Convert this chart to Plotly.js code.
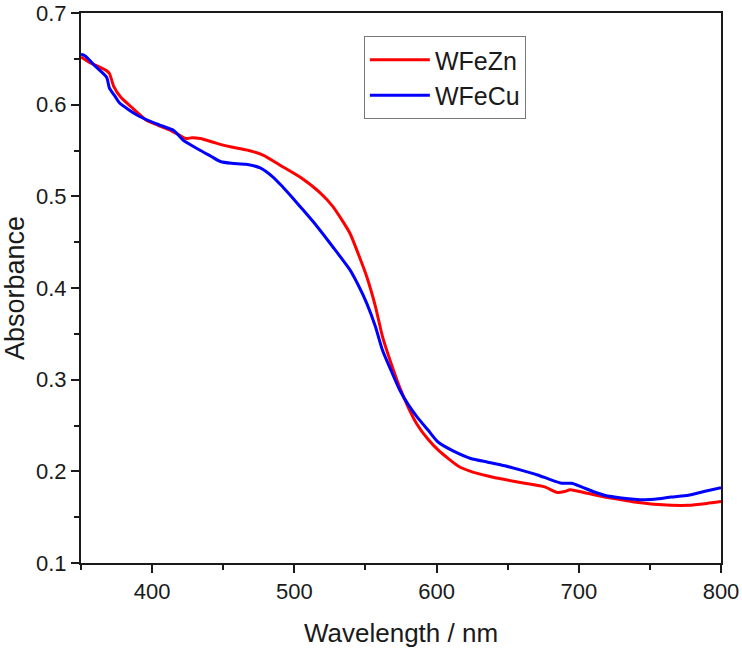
<!DOCTYPE html>
<html>
<head>
<meta charset="utf-8">
<script src="https://cdn.plot.ly/plotly-3.0.1.min.js"></script>
<style>
  html, body { margin: 0; padding: 0; background: #fff; }
  #chart { width: 742px; height: 651px; }
</style>
</head>
<body>
<div id="chart"></div>
<script>
// WFeZn absorbance spectrum
const znWavelength = [350, 356, 363, 368, 370, 373, 378, 385, 396, 405, 413, 420, 424, 428, 434, 445, 455, 468, 478, 490,
    504, 518, 527, 539, 545, 551, 557, 562, 568, 574, 580, 586, 594, 602, 616, 624, 636, 648, 662, 676,
    685, 690, 694, 706, 718, 730, 742, 753, 765, 777, 790, 800];
const znAbsorbance = [0.652, 0.646, 0.641, 0.637, 0.634, 0.620, 0.608, 0.598, 0.583, 0.577, 0.572, 0.566, 0.563, 0.564, 0.563, 0.558, 0.554, 0.550, 0.545, 0.534,
    0.521, 0.504, 0.489, 0.460, 0.437, 0.412, 0.380, 0.347, 0.318, 0.292, 0.270, 0.252, 0.235, 0.222, 0.205, 0.200, 0.195, 0.191, 0.187, 0.183,
    0.177, 0.178, 0.180, 0.176, 0.172, 0.169, 0.166, 0.164, 0.163, 0.163, 0.165, 0.167];

// WFeCu absorbance spectrum
const cuWavelength = [350, 353, 360, 368, 370, 374, 377, 383, 389, 397, 405, 415, 419, 422, 434, 441, 448, 456, 466, 476,
    485, 492, 499, 504, 515, 527, 539, 545, 551, 557, 562, 568, 574, 580, 586, 594, 601, 612, 624, 636,
    648, 660, 671, 680, 688, 695, 702, 710, 718, 730, 746, 756, 765, 777, 788, 800];
const cuAbsorbance = [0.655, 0.653, 0.642, 0.630, 0.618, 0.609, 0.602, 0.595, 0.589, 0.583, 0.578, 0.572, 0.566, 0.561, 0.550, 0.544, 0.538, 0.536, 0.535, 0.531,
    0.521, 0.510, 0.498, 0.489, 0.469, 0.445, 0.420, 0.403, 0.383, 0.358, 0.332, 0.310, 0.289, 0.273, 0.260, 0.245, 0.232, 0.222, 0.214, 0.210,
    0.206, 0.201, 0.196, 0.191, 0.187, 0.187, 0.183, 0.178, 0.174, 0.171, 0.169, 0.170, 0.172, 0.174, 0.178, 0.182];

const seriesNames = ['WFeZn', 'WFeCu'];
const seriesColors = ['rgb(255,0,0)', 'rgb(0,0,255)'];

const fontFamily = 'Liberation Sans, Arial, sans-serif';

const plotData = [
    {
        x: znWavelength,
        y: znAbsorbance,
        name: seriesNames[0],
        type: 'scatter',
        mode: 'lines',
        line: { color: seriesColors[0], width: 3, shape: 'spline', smoothing: 0.6 }
    },
    {
        x: cuWavelength,
        y: cuAbsorbance,
        name: seriesNames[1],
        type: 'scatter',
        mode: 'lines',
        line: { color: seriesColors[1], width: 3, shape: 'spline', smoothing: 0.6 }
    }
];

const axisCommon = {
    showline: true,
    linecolor: '#1a1a1a',
    linewidth: 2,
    mirror: true,
    showgrid: false,
    zeroline: false,
    ticks: 'outside',
    ticklen: 8,
    tickwidth: 2,
    tickcolor: '#1a1a1a',
    tickfont: { family: fontFamily, size: 22, color: '#1a1a1a' }
};

const layout = {
    width: 742,
    height: 651,
    margin: { t: 13, r: 21, b: 88, l: 81 },
    paper_bgcolor: '#fff',
    plot_bgcolor: '#fff',
    showlegend: true,
    legend: {
        x: 0.442,
        y: 0.958,
        xanchor: 'left',
        yanchor: 'top',
        bgcolor: '#fff',
        bordercolor: '#777',
        borderwidth: 1,
        itemwidth: 60,
        font: { family: fontFamily, size: 25, color: '#1a1a1a' },
        tracegroupgap: 0
    },
    xaxis: {
        ...axisCommon,
        range: [350, 800],
        dtick: 100,
        tick0: 400,
        minor: { ticks: 'outside', ticklen: 5, tickwidth: 2, tickcolor: '#1a1a1a', dtick: 50, tick0: 350 },
        title: { text: 'Wavelength / nm', font: { family: fontFamily, size: 26, color: '#1a1a1a' }, standoff: 20 }
    },
    yaxis: {
        ...axisCommon,
        range: [0.1, 0.7],
        dtick: 0.1,
        tickformat: '.1f',
        minor: { ticks: 'outside', ticklen: 5, tickwidth: 2, tickcolor: '#1a1a1a', dtick: 0.05 },
        title: { text: 'Absorbance', font: { family: fontFamily, size: 27, color: '#1a1a1a' }, standoff: 8 }
    }
};

Plotly.newPlot('chart', plotData, layout, { staticPlot: true, displayModeBar: false });
</script>
</body>
</html>
